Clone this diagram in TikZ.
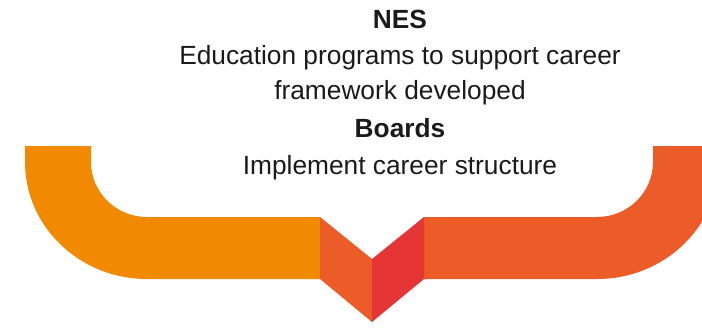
\documentclass[tikz,border=0pt]{standalone}
\usepackage{fontspec}
\setmainfont{Liberation Sans}
\definecolor{bandorange}{HTML}{F18A00}
\definecolor{banddark}{HTML}{EB5C28}
\definecolor{bandred}{HTML}{E53535}
\definecolor{inktext}{HTML}{1A1A1A}
\tikzset{
  label text/.style={anchor=base, text=inktext, inner sep=0pt, font=\fontsize{26.3}{30}\selectfont},
  head text/.style={label text, font=\fontsize{26.3}{30}\selectfont\bfseries},
}
\begin{document}
\begin{tikzpicture}[x=1pt,y=-1pt]
  \useasboundingbox (0,0) rectangle (702,327);
  \begin{scope}
    \clip (0,0) rectangle (702,327);
    % left bend
    \fill[bandorange] (25,146) -- (25,162)
      arc[start angle=180, end angle=90, x radius=122, y radius=117]
      -- (320,279) -- (320,217) -- (147,217)
      arc[start angle=90, end angle=180, x radius=56, y radius=55]
      -- (91,146) -- cycle;
    % right bend
    \fill[banddark] (424,217) -- (597,217)
      arc[start angle=90, end angle=0, x radius=56, y radius=55]
      -- (653,146) -- (719,146) -- (719,162)
      arc[start angle=0, end angle=90, x radius=122, y radius=117]
      -- (424,279) -- cycle;
    % folded chevron in the middle
    \fill[banddark] (320,217) -- (372,259) -- (372,322) -- (320,279) -- cycle;
    \fill[bandred] (372,259) -- (424,217) -- (424,279) -- (372,322) -- cycle;
  \end{scope}
  \node[head text]  (nes)    at (400,28)  {NES};
  \node[label text] (edu)    at (400,64)  {Education programs to support career};
  \node[label text] (frame)  at (400,99)  {framework developed};
  \node[head text]  (boards) at (400,137) {Boards};
  \node[label text] (impl)   at (400,174) {Implement career structure};
\end{tikzpicture}
\end{document}
